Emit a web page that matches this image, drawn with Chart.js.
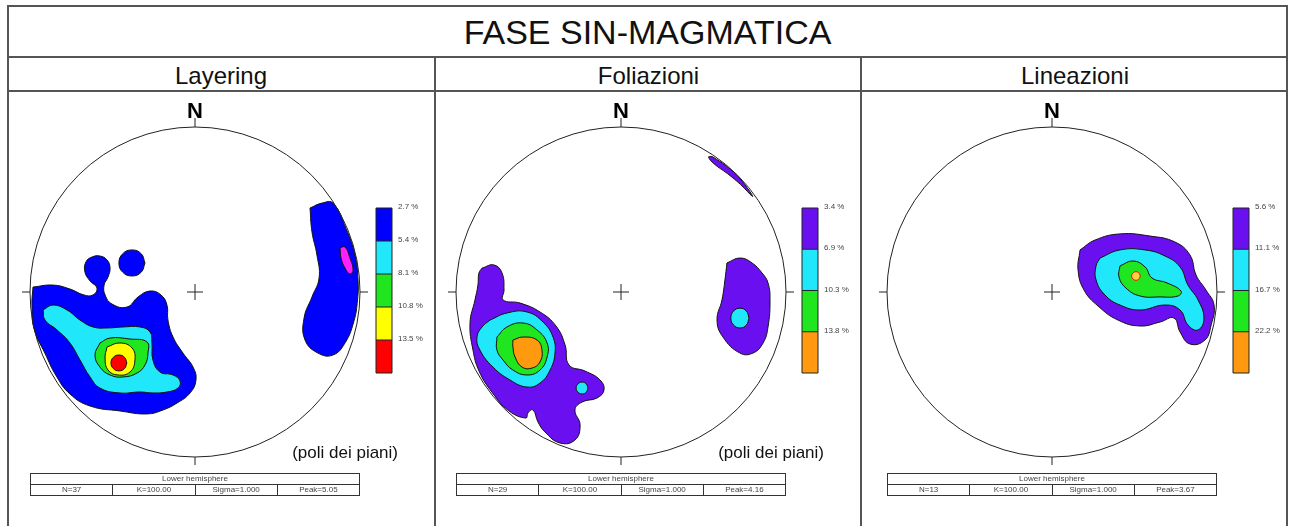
<!DOCTYPE html>
<html>
<head>
<meta charset="utf-8">
<script src="https://cdn.jsdelivr.net/npm/chart.js@4.4.1/dist/chart.umd.min.js"></script>
<style>
  body { margin: 0; background: #fff; font-family: Arial, "Liberation Sans", sans-serif; color: #111; }
  .abs { position: absolute; }
  #frame { left: 7px; top: 5px; width: 1281px; height: 600px; border: 2px solid #555; box-sizing: border-box; }
  .hl { height: 2px; background: #555; left: 7px; width: 1281px; }
  .vl { width: 2px; background: #555; top: 57px; height: 480px; }
  #title { left: 7px; top: 5px; width: 1281px; height: 52px; line-height: 55px; text-align: center; font-size: 34px; }
  .ptitle { top: 59px; height: 32px; line-height: 33px; text-align: center; font-size: 24px; }
  table.info { position: absolute; top: 473px; width: 330px; border-collapse: collapse; font-size: 8px; color: #444; }
  table.info td { border: 1px solid #333; height: 10px; line-height: 10px; padding: 0; text-align: center; }
</style>
</head>
<body>
<div id="frame" class="abs"></div>
<div class="abs hl" style="top:56px"></div>
<div class="abs hl" style="top:90px"></div>
<div class="abs vl" style="left:434px"></div>
<div class="abs vl" style="left:860px"></div>
<div id="title" class="abs">FASE SIN-MAGMATICA</div>
<div class="abs ptitle" style="left:7px;width:428px">Layering</div>
<div class="abs ptitle" style="left:436px;width:425px">Foliazioni</div>
<div class="abs ptitle" style="left:862px;width:426px">Lineazioni</div>
<canvas id="net1" class="abs" width="425" height="432" style="left:9px;top:93px"></canvas>
<canvas id="net2" class="abs" width="422" height="432" style="left:438px;top:93px"></canvas>
<canvas id="net3" class="abs" width="423" height="432" style="left:864px;top:93px"></canvas>
<script>
// contour levels (legend labels)
const layeringLevels = ['2.7 %', '5.4 %', '8.1 %', '10.8 %', '13.5 %'];
const foliazioniLevels = ['3.4 %', '6.9 %', '10.3 %', '13.8 %'];
const lineazioniLevels = ['5.6 %', '11.1 %', '16.7 %', '22.2 %'];

// statistics table
const nCounts = [37, 29, 13];
const kValues = ['100.00', '100.00', '100.00'];
const sigmaValues = ['1.000', '1.000', '1.000'];
const peakValues = ['5.05', '4.16', '3.67'];

// contour outlines, [x, y] in % of net radius (x = east, y = north)
const layeringL1main = [[-98.2,3.0],[-86.1,4.2],[-75.8,1.8],[-67.3,-1.8],[-61.8,-1.8],[-59.4,2.4],[-63.6,6.7],
  [-66.7,12.1],[-66.1,18.2],[-62.4,21.2],[-57.6,21.8],[-53.3,19.4],[-51.5,14.5],[-52.7,9.1],[-55.1,4.2],
  [-54.5,-1.8],[-50.3,-7.3],[-41.2,-9.1],[-34.5,-3.0],[-27.3,0.6],[-20.6,-1.8],[-17.0,-7.9],[-16.4,-17.0],
  [-13.3,-27.3],[-7.3,-37.0],[-1.2,-45.5],[0.6,-53.3],[-3.0,-61.2],[-10.9,-67.3],[-19.4,-71.5],[-29.1,-73.9],
  [-45.5,-72.1],[-63.6,-69.1],[-75.8,-61.8],[-84.0,-51.0],[-91.0,-37.0],[-97.5,-22.5],[-98.8,-7.9]];
const layeringL1blob = [[-30.3,17.6],[-32.6,23.2],[-38.2,25.5],[-43.8,23.2],[-46.1,17.6],[-43.8,12.0],[-38.2,9.7],[-32.6,12.0]];
const layeringL1east = [[69.7,50.9],[77.0,53.9],[83.6,53.9],[91.5,38.5],[97.0,22.2],[98.8,7.2],[98.5,-4.8],
  [96.2,-18.1],[90.9,-30.9],[83.6,-38.2],[74.5,-37.0],[66.7,-29.1],[66.1,-15.8],[70.9,-3.0],[75.2,8.5],
  [73.9,22.4],[70.9,36.4]];
const layeringEastPeak = [[87.9,26.7],[90.9,27.3],[93.9,20.6],[95.8,13.3],[93.9,10.9],[90.9,14.5],[88.5,20.6]];
const layeringL2 = [[-92.1,-10.9],[-86.1,-7.9],[-77.6,-10.9],[-69.7,-17.0],[-61.8,-21.2],[-53.3,-21.8],
  [-43.6,-21.2],[-33.3,-21.2],[-27.3,-24.2],[-26.1,-30.9],[-25.5,-41.2],[-21.2,-48.5],[-13.3,-50.3],
  [-9.1,-53.9],[-10.3,-58.2],[-17.0,-60.6],[-25.5,-61.2],[-33.3,-60.6],[-45.5,-61.2],[-57.6,-58.2],
  [-63.6,-51.5],[-69.7,-41.2],[-75.8,-30.9],[-83.6,-23.0],[-90.9,-17.0]];
const layeringL3 = [[-57.6,-30.9],[-51.5,-27.9],[-39.4,-28.5],[-29.1,-30.3],[-28.5,-37.0],[-30.3,-44.2],
  [-35.1,-49.1],[-43.6,-51.5],[-51.5,-50.3],[-57.6,-45.5],[-60.6,-38.2]];
const layeringL4 = [[-53.3,-33.3],[-45.5,-30.9],[-38.2,-33.9],[-36.4,-41.2],[-39.4,-48.5],[-46.7,-50.3],
  [-52.7,-47.3],[-54.5,-40.0]];
const layeringL5 = [[-41.3,-43.0],[-42.7,-39.6],[-46.1,-38.2],[-49.5,-39.6],[-50.9,-43.0],[-49.5,-46.4],
  [-46.1,-47.8],[-42.7,-46.4]];

const foliazioniL1main = [[-84.2,14.5],[-77.0,16.4],[-72.1,11.5],[-70.9,1.2],[-71.5,-4.8],[-61.2,-6.7],
  [-49.1,-12.1],[-39.4,-20.6],[-33.9,-32.1],[-31.5,-44.2],[-21.8,-47.9],[-12.7,-53.3],[-10.3,-59.4],
  [-14.5,-64.2],[-23.6,-66.7],[-27.9,-71.5],[-24.8,-80.6],[-27.9,-89.7],[-37.0,-91.5],[-46.1,-84.8],
  [-50.3,-78.8],[-53.3,-71.5],[-56.4,-73.3],[-57.6,-76.4],[-68.0,-72.0],[-78.0,-61.0],[-86.0,-48.0],
  [-89.7,-35.2],[-91.5,-18.8],[-88.5,-4.8],[-86.7,4.2],[-86.1,11.5]];
const foliazioniL1east = [[64.2,17.6],[72.1,20.6],[79.4,17.6],[85.5,11.5],[89.1,5.5],[90.3,-4.8],[89.1,-21.2],
  [86.1,-30.9],[80.0,-37.0],[72.1,-37.0],[61.8,-27.3],[58.2,-17.0],[61.2,-4.8],[63.0,7.3]];
const foliazioniL1rim = [[55.3,82.1],[64.0,76.2],[71.6,69.2],[78.0,61.0],[79.7,57.9],[72.4,65.2],[64.6,71.7],
  [56.4,77.7],[53.1,81.8]];
const foliazioniL2 = [[-79.4,-17.0],[-69.1,-12.7],[-57.0,-12.1],[-47.3,-18.2],[-41.2,-27.3],[-40.0,-37.0],
  [-43.0,-47.3],[-49.1,-55.2],[-57.0,-57.6],[-67.3,-53.3],[-77.6,-45.5],[-85.5,-35.2],[-87.3,-27.3],[-84.2,-21.2]];
const foliazioniL2south = [[-20.0,-58.2],[-21.1,-55.7],[-23.6,-54.6],[-26.1,-55.7],[-27.2,-58.2],[-26.1,-60.7],
  [-23.6,-61.8],[-21.1,-60.7]];
const foliazioniL2east = [[77.6,-15.8],[76.0,-11.6],[72.1,-9.8],[68.2,-11.6],[66.6,-15.8],[68.2,-20.0],
  [72.1,-21.8],[76.0,-20.0]];
const foliazioniL3 = [[-75.2,-27.3],[-69.1,-21.2],[-59.4,-18.8],[-50.9,-23.0],[-44.8,-30.9],[-44.8,-39.4],
  [-49.1,-47.3],[-57.0,-50.3],[-65.5,-47.3],[-71.5,-41.2],[-75.2,-35.2]];
const foliazioniL4 = [[-65.5,-29.1],[-59.4,-27.3],[-50.9,-29.1],[-47.9,-35.2],[-49.1,-42.4],[-53.9,-46.1],
  [-60.0,-45.5],[-64.2,-39.4],[-65.5,-33.3]];

const lineazioniL1 = [[17.0,25.5],[26.1,31.5],[41.2,35.2],[59.4,33.9],[74.5,30.3],[83.6,22.4],[87.3,10.3],
  [93.3,1.2],[98.2,-7.9],[96.5,-19.8],[92.7,-29.1],[83.6,-31.5],[77.6,-24.2],[73.9,-15.8],[65.5,-18.2],
  [53.3,-20.6],[40.0,-17.0],[27.9,-8.5],[19.4,1.2],[15.8,13.3]];
const lineazioniL2 = [[29.1,20.6],[41.2,25.5],[56.4,25.5],[68.5,21.8],[77.6,15.2],[82.4,4.2],[88.5,-4.8],
  [92.1,-15.8],[88.5,-23.0],[82.4,-20.0],[77.6,-10.9],[68.5,-7.9],[53.3,-10.9],[41.2,-7.9],[32.1,-1.8],
  [26.7,7.3],[26.7,15.8]];
const lineazioniL3 = [[41.2,15.8],[49.1,18.8],[56.4,15.2],[60.6,8.5],[69.7,5.5],[78.2,0.6],[76.4,-2.4],
  [65.5,-3.0],[53.3,-2.4],[44.8,2.4],[40.6,9.1]];
const lineazioniPeak = [[53.5,9.7],[52.7,11.5],[50.9,12.3],[49.1,11.5],[48.3,9.7],[49.1,7.9],[50.9,7.1],[52.7,7.9]];

const palette1 = ['#0000ff', '#20e8fa', '#20e620', '#ffff00', '#ff0000'];
const palette2 = ['#6a10f0', '#20e8fa', '#20e620', '#ff9a10'];

const R = 165; // net radius in px
const CY = 199;

function makeNet(id, cxPx, contours, levels, palette, note) {
  const canvas = document.getElementById(id);
  const w = canvas.width, h = canvas.height;
  const datasets = contours.map(c => ({
    data: [...c.pts, c.pts[0]].map(p => ({x: p[0], y: p[1]})),
    backgroundColor: c.color || palette[c.level],
    borderColor: c.border || '#111',
    borderWidth: 1,
    fill: 'shape',
    tension: 0.45,
    pointRadius: 0,
    order: 20 - c.level
  }));

  const netPlugin = {
    id: 'net',
    afterDatasetsDraw(chart) {
      const {ctx, scales: {x, y}} = chart;
      const cx = x.getPixelForValue(0), cy = y.getPixelForValue(0);
      const r = x.getPixelForValue(100) - cx;
      ctx.save();
      ctx.strokeStyle = '#222';
      ctx.lineWidth = 1;
      ctx.beginPath();
      ctx.arc(cx, cy, r, 0, Math.PI * 2);
      ctx.stroke();
      ctx.beginPath();
      ctx.moveTo(cx, cy - r); ctx.lineTo(cx, cy - r - 9);
      ctx.moveTo(cx, cy + r); ctx.lineTo(cx, cy + r + 8);
      ctx.moveTo(cx - r, cy); ctx.lineTo(cx - r - 8, cy);
      ctx.moveTo(cx + r, cy); ctx.lineTo(cx + r + 8, cy);
      ctx.moveTo(cx - 8, cy); ctx.lineTo(cx + 8, cy);
      ctx.moveTo(cx, cy - 8); ctx.lineTo(cx, cy + 8);
      ctx.stroke();

      ctx.fillStyle = '#000';
      ctx.font = 'bold 22px Arial, "Liberation Sans", sans-serif';
      ctx.textAlign = 'center';
      ctx.textBaseline = 'alphabetic';
      ctx.fillText('N', cx, cy - r - 9);

      // colour bar
      const bx = cx + 181, by = cy - 84, bw = 16, bh = 165;
      const seg = bh / levels.length;
      levels.forEach((lab, i) => {
        ctx.fillStyle = palette[i];
        ctx.fillRect(bx, by + i * seg, bw, seg);
      });
      ctx.strokeStyle = '#222';
      ctx.beginPath();
      for (let i = 1; i < levels.length; i++) {
        ctx.moveTo(bx, by + i * seg); ctx.lineTo(bx + bw, by + i * seg);
      }
      ctx.rect(bx, by, bw, bh);
      ctx.stroke();
      ctx.fillStyle = '#444';
      ctx.font = '8px Arial, "Liberation Sans", sans-serif';
      ctx.textAlign = 'left';
      ctx.textBaseline = 'middle';
      levels.forEach((lab, i) => ctx.fillText(lab, bx + bw + 6, by + i * seg - 1));

      if (note) {
        ctx.fillStyle = '#111';
        ctx.font = '17px Arial, "Liberation Sans", sans-serif';
        ctx.textAlign = 'right';
        ctx.textBaseline = 'alphabetic';
        ctx.fillText(note, cx + 203, cy + 166);
      }
      ctx.restore();
    }
  };

  return new Chart(canvas, {
    type: 'line',
    data: {datasets},
    options: {
      responsive: false,
      animation: false,
      devicePixelRatio: 1,
      events: [],
      layout: {padding: 0},
      plugins: {legend: {display: false}, tooltip: {enabled: false}},
      scales: {
        x: {type: 'linear', display: false, min: -cxPx / R * 100, max: (w - cxPx) / R * 100},
        y: {type: 'linear', display: false, min: -(h - CY) / R * 100, max: CY / R * 100}
      }
    },
    plugins: [netPlugin]
  });
}

function makeTable(left, i) {
  const t = document.createElement('table');
  t.className = 'info';
  t.style.left = left + 'px';
  t.innerHTML = '<tr><td colspan="4">Lower hemisphere</td></tr>' +
    '<tr><td style="width:25%">N=' + nCounts[i] + '</td><td style="width:25%">K=' + kValues[i] +
    '</td><td style="width:25%">Sigma=' + sigmaValues[i] + '</td><td>Peak=' + peakValues[i] + '</td></tr>';
  document.body.appendChild(t);
}

makeNet('net1', 186, [
  {level: 0, pts: layeringL1main},
  {level: 0, pts: layeringL1blob},
  {level: 0, pts: layeringL1east},
  {level: 1, pts: layeringEastPeak, color: '#ff20ff'},
  {level: 1, pts: layeringL2},
  {level: 2, pts: layeringL3},
  {level: 3, pts: layeringL4},
  {level: 4, pts: layeringL5}
], layeringLevels, palette1, '(poli dei piani)');

makeNet('net2', 183, [
  {level: 0, pts: foliazioniL1main},
  {level: 0, pts: foliazioniL1east},
  {level: 0, pts: foliazioniL1rim},
  {level: 1, pts: foliazioniL2},
  {level: 1, pts: foliazioniL2south},
  {level: 1, pts: foliazioniL2east},
  {level: 2, pts: foliazioniL3},
  {level: 3, pts: foliazioniL4}
], foliazioniLevels, palette2, '(poli dei piani)');

makeNet('net3', 188, [
  {level: 0, pts: lineazioniL1},
  {level: 1, pts: lineazioniL2},
  {level: 2, pts: lineazioniL3},
  {level: 3, pts: lineazioniPeak, color: '#ffd040', border: '#ff0000'}
], lineazioniLevels, palette2, null);

makeTable(30, 0);
makeTable(456, 1);
makeTable(887, 2);
</script>
</body>
</html>
